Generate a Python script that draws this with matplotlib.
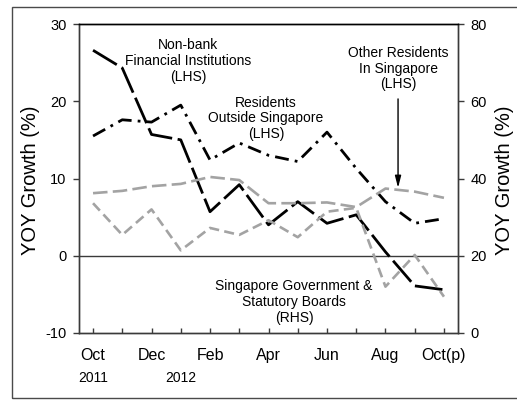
"""
Singapore bank lending YOY growth by customer type, twin-axis line chart.
"""

import matplotlib

matplotlib.use("Agg")
import matplotlib.pyplot as plt
from matplotlib.patches import Rectangle

# Data
months = ["Oct", "Nov", "Dec", "Jan", "Feb", "Mar", "Apr",
          "May", "Jun", "Jul", "Aug", "Sep", "Oct(p)"]
year_labels = {0: "2011", 3: "2012"}

non_bank = [26.6, 24.3, 15.7, 15.0, 5.7, 9.2, 4.0, 7.0, 4.2, 5.3, 0.5, -3.9, -4.4]
residents_outside = [15.5, 17.6, 17.3, 19.5, 12.4, 14.6, 13.0, 12.2, 16.0, 11.3, 7.0, 4.2, 4.8]
other_residents = [8.1, 8.4, 9.0, 9.3, 10.2, 9.8, 6.8, 6.8, 6.9, 6.3, 8.7, 8.3, 7.5]
govt_rhs = [33.6, 25.4, 32.0, 21.4, 27.2, 25.4, 29.2, 24.8, 31.4, 32.4, 12.0, 20.2, 9.4]

lhs_ticks = [-10, 0, 10, 20, 30]
rhs_ticks = [0, 20, 40, 60, 80]

FONT = ["Liberation Sans", "DejaVu Sans"]
GREY = "#a3a3a3"
SPINE = "#3a3a3a"

plt.rcParams["font.family"] = FONT
plt.rcParams["axes.unicode_minus"] = False

fig = plt.figure(figsize=(5.17, 4.0), dpi=100)
ax = fig.add_axes([79 / 517, 1 - 333 / 400, 379 / 517, 309 / 400])
ax2 = ax.twinx()

x = list(range(len(months)))

# LHS series
ax.plot(x, non_bank, color="black", lw=2.0, linestyle=(0, (10, 2)))
ax.plot(x, residents_outside, color="black", lw=2.0, linestyle=(0, (5, 2.2, 1, 2.2)))
ax.plot(x, other_residents, color=GREY, lw=1.9, linestyle=(0, (5.5, 2)))
ax.axhline(0, color=SPINE, lw=1.0, zorder=1)

# RHS series
ax2.plot(x, govt_rhs, color=GREY, lw=1.9, linestyle=(0, (3.8, 2)))

# Axes limits / ticks
ax.set_xlim(-0.48, 12.48)
ax.set_ylim(-10, 30)
ax2.set_ylim(0, 80)
ax.set_yticks(lhs_ticks)
ax2.set_yticks(rhs_ticks)
ax.set_xticks(x)
ax.set_xticklabels([m if i % 2 == 0 else "" for i, m in enumerate(months)], fontsize=11.5)
ax.tick_params(axis="x", direction="in", length=3.5, width=1, color=SPINE, pad=11)
ax.tick_params(axis="y", direction="out", length=4, width=1, color=SPINE, labelsize=10.5, pad=5)
ax2.tick_params(axis="y", direction="out", length=4, width=1, color=SPINE, labelsize=10.5, pad=5)

for a in (ax, ax2):
    for side in ("left", "right", "bottom"):
        a.spines[side].set_color(SPINE)
        a.spines[side].set_linewidth(1.0)
    a.spines["top"].set_color("black")
    a.spines["top"].set_linewidth(1.0)

# Year labels under the month labels
for i, yr in year_labels.items():
    ax.text(i, -0.146, yr, transform=ax.get_xaxis_transform(),
            ha="center", va="center", fontsize=10)

# Axis titles
fig.text(31 / 517, 1 - 180 / 400, "YOY Growth (%)", rotation=90,
         ha="center", va="center", fontsize=14.5)
fig.text(505 / 517, 1 - 180 / 400, "YOY Growth (%)", rotation=90,
         ha="center", va="center", fontsize=14.5)

# Series annotations
ann = dict(ha="center", va="center", fontsize=10, linespacing=1.15)
ax.text(3.25, 25.2, "Non-bank\nFinancial Institutions\n(LHS)", **ann)
ax.text(5.91, 17.8, "Residents\nOutside Singapore\n(LHS)", **ann)
ax.text(10.43, 24.2, "Other Residents\nIn Singapore\n(LHS)", **ann)
ax.text(6.87, -6.0, "Singapore Government &\nStatutory Boards\n(RHS)", **ann)

ax.annotate("", xy=(10.43, 8.8), xytext=(10.43, 20.3),
            arrowprops=dict(arrowstyle="-|>,head_width=0.18,head_length=0.7",
                            color="black", lw=1.0, shrinkA=0, shrinkB=0))

# Outer frame around the figure (right edge runs off the image)
fig.add_artist(Rectangle((12 / 517, 2 / 400), 1.0, 391 / 400,
                         transform=fig.transFigure, fill=False,
                         edgecolor="#4a4a4a", lw=1.0))

fig.savefig("out.png", dpi=100, facecolor="white")
